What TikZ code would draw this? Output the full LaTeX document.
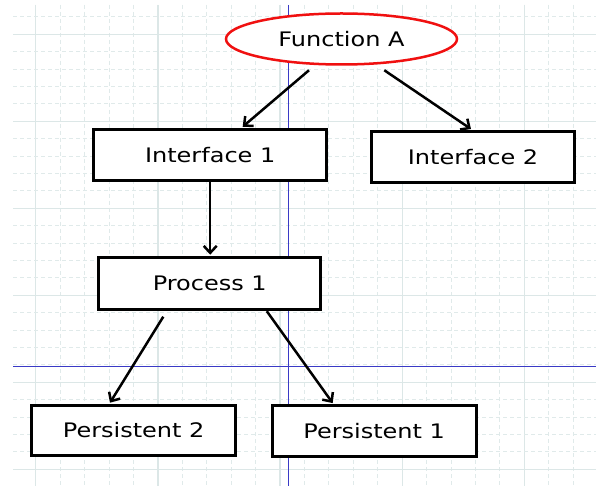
\documentclass[tikz,border=0pt]{standalone}
\usepackage{fontspec}
\newfontfamily\lbl[FakeStretch=1.2]{DejaVu Sans}
\usetikzlibrary{shapes.geometric,arrows.meta}
\definecolor{gridc}{HTML}{DCE7E7}
\definecolor{gridd}{HTML}{E0EAEA}
\definecolor{guidec}{HTML}{3A3AC6}
\definecolor{funcred}{HTML}{F01010}
\tikzset{
  griddash/.style={draw=gridd,line width=0.9pt,dash pattern=on 4pt off 3pt},
  gridsolid/.style={draw=gridc,line width=1.3pt},
  guide/.style={draw=guidec,line width=1pt},
  stepbox/.style={draw=black,line width=3pt,fill=white,rectangle,inner sep=0pt,
    font=\lbl\fontsize{20}{24}\selectfont},
  funcnode/.style={draw=funcred,line width=2.5pt,fill=white,ellipse,inner sep=0pt,
    minimum width=231pt,minimum height=51pt,font=\lbl\fontsize{20}{24}\selectfont},
  arr/.style={draw=black,line width=2.5pt,-{Straight Barb[length=7pt,width=13pt]}}
}
\begin{document}
\begin{tikzpicture}[x=1pt,y=-1pt]
\useasboundingbox[fill=white] (0,0) rectangle (596,486);
% grid
\foreach \k in {0,...,22} {
  \draw[griddash] ({35.7+24.43*\k},5) -- ({35.7+24.43*\k},486);
}
\foreach \k in {0,5,10,15,20} {
  \draw[gridsolid] ({35.7+24.43*\k},5) -- ({35.7+24.43*\k},486);
}
\foreach \j in {-1,...,25} {
  \draw[griddash] (13,{34.3+17.4*\j}) -- (596,{34.3+17.4*\j});
}
\foreach \j in {0,5,10,15,20,25} {
  \draw[gridsolid] (13,{34.3+17.4*\j}) -- (596,{34.3+17.4*\j});
}
% guide lines
\draw[guide] (288.7,5) -- (288.7,486);
\draw[guide] (13,366.7) -- (596,366.7);
% nodes
\node[funcnode] (fa) at (341.5,39) {Function A};
\node[stepbox,minimum width=233pt,minimum height=51.5pt] (i1) at (210.2,155) {Interface 1};
\node[stepbox,minimum width=203pt,minimum height=51.3pt] (i2) at (473,157.2) {Interface 2};
\node[stepbox,minimum width=222pt,minimum height=52pt] (p1) at (209.8,283.2) {Process 1};
\node[stepbox,minimum width=204.3pt,minimum height=50.6pt] (ps2) at (133.7,430.5) {Persistent 2};
\node[stepbox,minimum width=204pt,minimum height=51.3pt] (ps1) at (374.2,431.2) {Persistent 1};
% connectors
\draw[arr] ([xshift=-32.5pt,yshift=-4.5pt]fa.south) -- ([xshift=32.5pt,yshift=1pt]i1.north);
\draw[arr] ([xshift=42.8pt,yshift=-4.5pt]fa.south) -- ([xshift=-2pt,yshift=1pt]i2.north);
\draw[arr] (i1.south) -- ([yshift=1pt]i1.south |- p1.north);
\draw[arr] ([xshift=-46.5pt,yshift=-6pt]p1.south) -- ([xshift=-23.7pt,yshift=1pt]ps2.north);
\draw[arr] ([xshift=57pt,yshift=-0.5pt]p1.south) -- ([xshift=-41.5pt,yshift=1pt]ps1.north);
\end{tikzpicture}
\end{document}
